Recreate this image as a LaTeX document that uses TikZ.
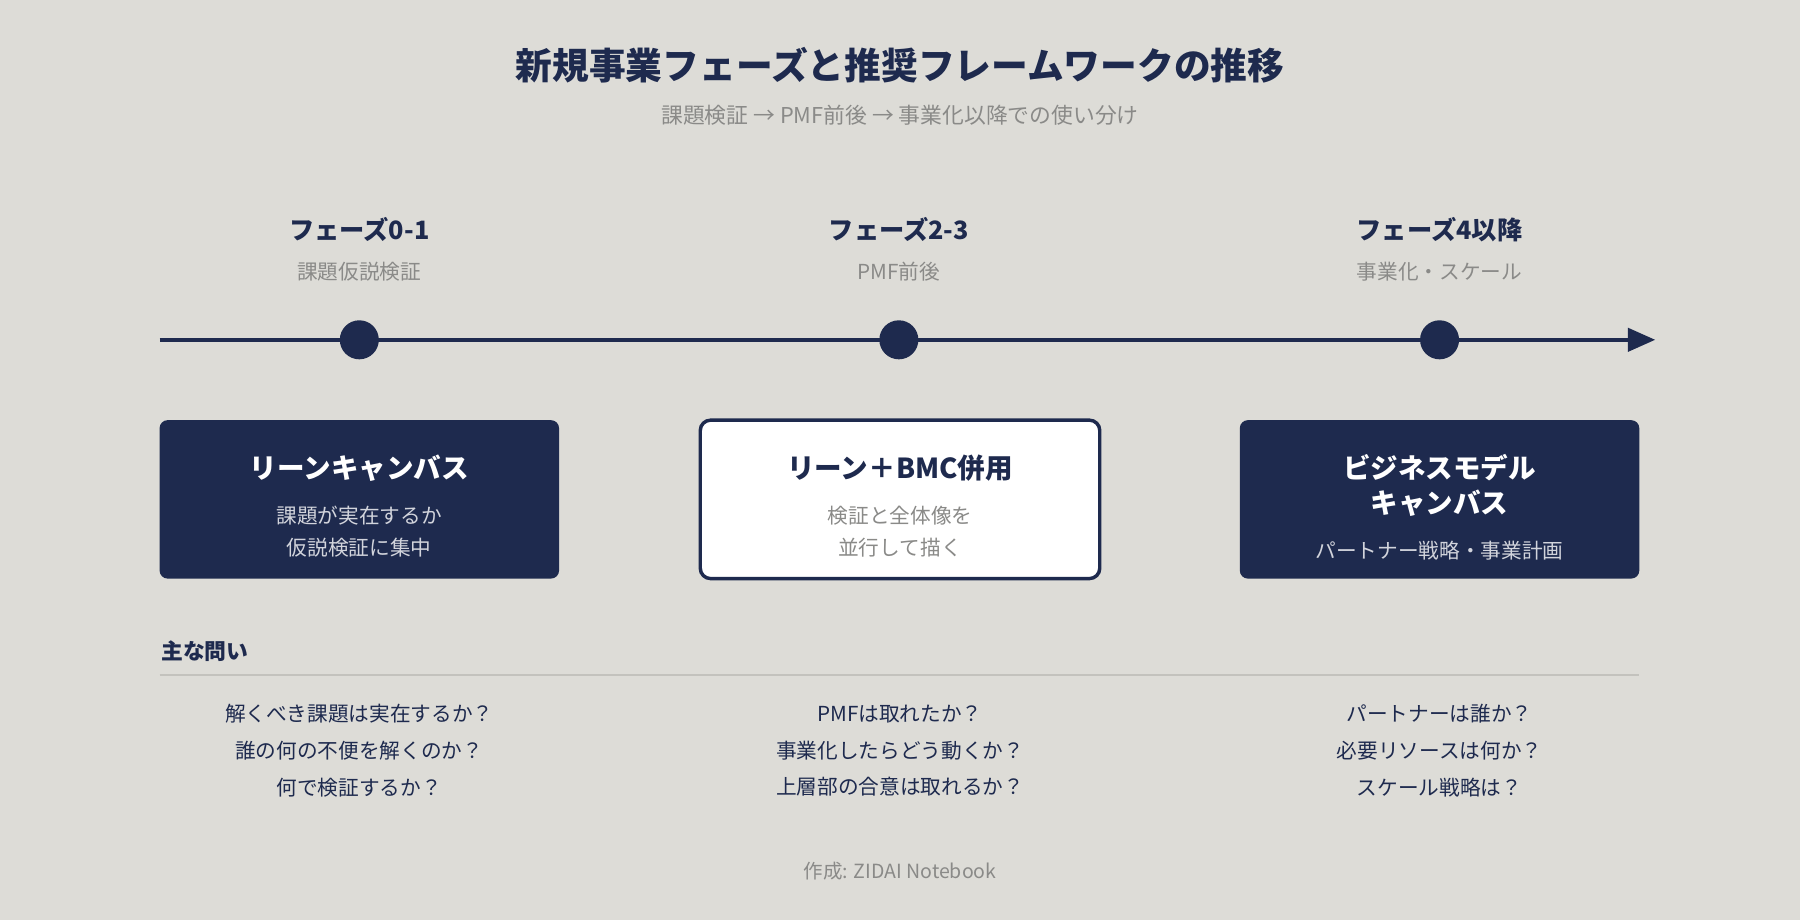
\documentclass[tikz,border=0pt]{standalone}
\usepackage{fontspec}
\setmainfont{Noto Sans CJK JP}
\usetikzlibrary{arrows.meta}
\definecolor{bg}{HTML}{DDDCD7}
\definecolor{navy}{HTML}{1E2A4E}
\definecolor{gtxt}{HTML}{8A8A88}
\definecolor{ltxt}{HTML}{D2D4DC}
\definecolor{rule}{HTML}{C3C2BD}
\tikzset{
 fs/.style={font=\fontsize{#1}{#1}\selectfont},
 phase/.style={fs=22,text=navy,font=\bfseries\fontsize{22}{22}\selectfont},
 phsub/.style={text=gtxt,font=\fontsize{18}{18}\selectfont},
 dot/.style={circle,fill=navy,minimum size=34pt,inner sep=0pt},
 darkbox/.style={fill=navy,rounded corners=7pt,minimum width=348pt,minimum height=138pt},
 lightbox/.style={fill=white,draw=navy,line width=3pt,rounded corners=9pt,minimum width=348pt,minimum height=138pt},
 btitle/.style={font=\bfseries\fontsize{24}{30}\selectfont,align=center},
 bsub/.style={font=\fontsize{18}{28}\selectfont,align=center},
 q/.style={text=navy,font=\fontsize{18}{32}\selectfont,align=center},
}
\begin{document}
\begin{tikzpicture}[x=1pt,y=-1pt]
\fill[bg] (0,0) rectangle (1568,801);
\useasboundingbox (0,0) rectangle (1568,801);
\node[text=navy,font=\bfseries\fontsize{32}{32}\selectfont] (title) at (784,57) {新規事業フェーズと推奨フレームワークの推移};
\node[text=gtxt,font=\fontsize{19}{19}\selectfont] (subtitle) at (784,100) {課題検証 → PMF前後 → 事業化以降での使い分け};
% phases
\node[phase] (p1) at (313,200) {フェーズ0-1};
\node[phsub] (s1) at (313,237) {課題仮説検証};
\node[phase] (p2) at (783,200) {フェーズ2-3};
\node[phsub] (s2) at (783,237) {PMF前後};
\node[phase] (p3) at (1254,200) {フェーズ4以降};
\node[phsub] (s3) at (1254,237) {事業化・スケール};
% timeline
\coordinate (ts) at (139,296);
\coordinate (te) at (1442,296);
\draw[navy,line width=4pt,-{Triangle[length=24pt,width=20pt]}] (ts) -- (te);
\node[dot] (d1) at (313,296) {};
\node[dot] (d2) at (783,296) {};
\node[dot] (d3) at (1254,296) {};
% boxes
\node[darkbox] (b1) at (313,435) {};
\node[btitle,text=white] (b1t) at (313,408) {リーンキャンバス};
\node[bsub,text=ltxt] (b1s) at (313,463) {課題が実在するか\\仮説検証に集中};
\node[lightbox] (b2) at (784,435) {};
\node[btitle,text=navy] (b2t) at (784,408) {リーン＋BMC併用};
\node[bsub,text=gtxt] (b2s) at (784,463) {検証と全体像を\\並行して描く};
\node[darkbox] (b3) at (1254,435) {};
\node[btitle,text=white] (b3t) at (1254,423) {ビジネスモデル\\キャンバス};
\node[bsub,text=ltxt] (b3s) at (1254,480) {パートナー戦略・事業計画};
% questions
\node[anchor=west,text=navy,font=\bfseries\fontsize{19}{19}\selectfont] (qh) at (137,567) {主な問い};
\coordinate (r1) at (139,588);
\coordinate (r2) at (1428,588);
\draw[rule,line width=1.5pt] (r1) -- (r2);
\node[q] (q1) at (313,654) {解くべき課題は実在するか？\\誰の何の不便を解くのか？\\何で検証するか？};
\node[q] (q2) at (784,654) {PMFは取れたか？\\事業化したらどう動くか？\\上層部の合意は取れるか？};
\node[q] (q3) at (1254,654) {パートナーは誰か？\\必要リソースは何か？\\スケール戦略は？};
\node[text=gtxt,font=\fontsize{17}{17}\selectfont] (foot) at (784,759) {作成: ZIDAI Notebook};
\end{tikzpicture}
\end{document}
